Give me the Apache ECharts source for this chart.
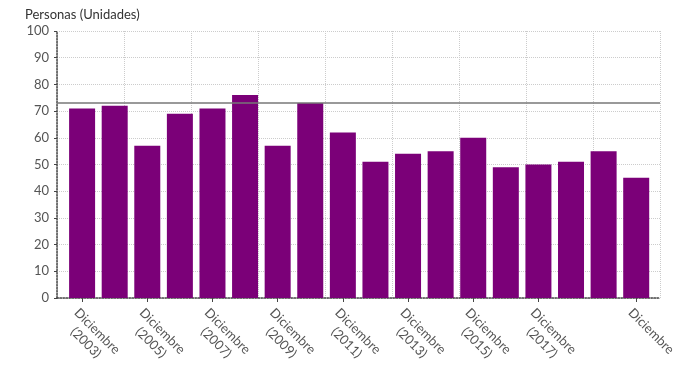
<!DOCTYPE html>
<html><head><meta charset="utf-8">
<script src="https://cdn.jsdelivr.net/npm/echarts@6/dist/echarts.min.js"></script>
<style>html,body{margin:0;padding:0;background:#fff}#c{width:700px;height:370px}</style>
</head><body><div id="c"></div>
<script>
const years = [2003,2004,2005,2006,2007,2008,2009,2010,2011,2012,2013,2014,2015,2016,2017,2018,2019,2020];
const values = [71,72,57,69,71,76,57,73,62,51,54,55,60,49,50,51,55,45];
const labelYears = [2003,2005,2007,2009,2011,2013,2015,2017,2020];
const refValue = 73;
const yTicks = [0,10,20,30,40,50,60,70,80,90,100];
const yAxisTitle = 'Personas (Unidades)';

const chart = echarts.init(document.getElementById('c'));
const font = 'Lato, "Open Sans", sans-serif';
chart.setOption({
  animation:false,
  textStyle:{fontFamily:font},
  graphic:[{type:'text',left:25,top:8,style:{text:yAxisTitle,font:'13px '+font,fill:'#333'}}],
  grid:{left:57,right:40,top:31,bottom:72,containLabel:false,outerBoundsMode:'none'},
  xAxis:[{
    type:'value',min:2002.23,max:2020.73,
    splitLine:{show:false},
    axisLine:{show:true,onZero:false,lineStyle:{color:'#444',type:'dotted',width:1.5}},
    axisTick:{show:true,customValues:labelYears,length:4,lineStyle:{color:'#444'}},
    axisLabel:{customValues:labelYears,rotate:-45,color:'#555',fontSize:13,fontFamily:font,margin:7,
      verticalAlign:'top',
      rich:{a:{align:'center',fontSize:13,lineHeight:16,color:'#555',fontFamily:font},
            b:{align:'center',fontSize:13,lineHeight:16,color:'#555',fontFamily:font}},
      formatter:v=> v===2020 ? '{a|Diciembre}' : '{a|Diciembre}\n{b|(' + v + ')}'}
  },{
    type:'value',min:0,max:9,interval:1,position:'bottom',show:true,
    axisLine:{show:false},axisTick:{show:false},axisLabel:{show:false},
    splitLine:{show:true,lineStyle:{color:'#ccc',type:'dotted'}}
  }],
  yAxis:{
    type:'value',min:0,max:100,interval:10,
    axisLine:{show:true,lineStyle:{color:'#444',type:'dotted',width:1.5}},
    axisTick:{show:true,length:3,lineStyle:{color:'#444'}},
    axisLabel:{color:'#555',fontSize:13,fontFamily:font,margin:8,
      formatter:v=> yTicks.includes(v)? String(v):''},
    splitLine:{show:true,lineStyle:{color:'#ccc',type:'dotted'}}
  },
  series:[{
    type:'bar',xAxisIndex:0,barWidth:26,
    data:years.map((y,i)=>[y,values[i]]),
    itemStyle:{color:'#7B0078'},
    markLine:{symbol:'none',silent:true,label:{show:false},
      lineStyle:{color:'#777',type:'solid',width:1.5},
      data:[{yAxis:refValue}]}
  }]
});
</script></body></html>
